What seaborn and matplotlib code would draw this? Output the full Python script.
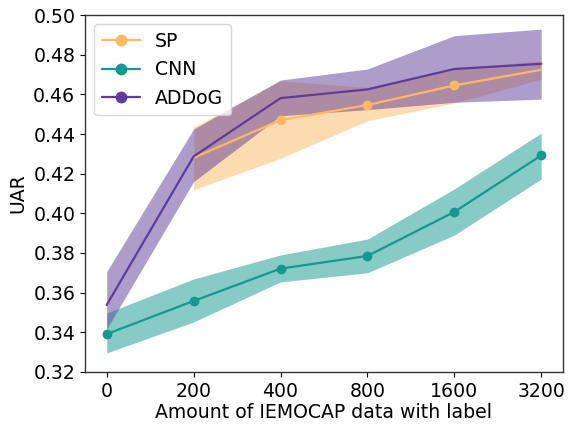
import matplotlib
matplotlib.use("Agg")
import matplotlib.pyplot as plt
from matplotlib.lines import Line2D
import numpy as np
import pandas as pd
import seaborn as sns

# ─────────────────────────────────────────────
# Data
# ─────────────────────────────────────────────
AMOUNTS = ["0", "200", "400", "800", "1600", "3200"]

SP_X     = ["200", "400", "800", "1600", "3200"]
SP_MEAN  = [0.4280, 0.4470, 0.4546, 0.4645, 0.4724]
SP_LOW   = [0.4119, 0.4277, 0.4467, 0.4556, 0.4677]
SP_HIGH  = [0.4435, 0.4668, 0.4635, 0.4730, 0.4770]
SP_MARKED = ["400", "800", "1600"]

CNN_X    = AMOUNTS
CNN_MEAN = [0.3391, 0.3558, 0.3721, 0.3785, 0.4007, 0.4292]
CNN_LOW  = [0.3296, 0.3452, 0.3654, 0.3700, 0.3890, 0.4173]
CNN_HIGH = [0.3497, 0.3669, 0.3790, 0.3870, 0.4123, 0.4405]
CNN_MARKED = AMOUNTS

ADDOG_X    = AMOUNTS
ADDOG_MEAN = [0.3538, 0.4287, 0.4581, 0.4625, 0.4728, 0.4754]
ADDOG_LOW  = [0.3417, 0.4160, 0.4492, 0.4523, 0.4560, 0.4576]
ADDOG_HIGH = [0.3706, 0.4425, 0.4672, 0.4728, 0.4896, 0.4929]
ADDOG_MARKED = []

COLORS = {"SP": "#fdb863", "CNN": "#13998f", "ADDoG": "#5e3c99"}
FS = 13.6


def make_frame(name, xs, mean, low, high, marked):
    df = pd.DataFrame({"amount": xs, "UAR": mean, "low": low, "high": high})
    df["pos"] = df["amount"].map(AMOUNTS.index)
    df["model"] = name
    df["marked"] = df["amount"].isin(marked)
    return df


frames = [
    make_frame("SP", SP_X, SP_MEAN, SP_LOW, SP_HIGH, SP_MARKED),
    make_frame("CNN", CNN_X, CNN_MEAN, CNN_LOW, CNN_HIGH, CNN_MARKED),
    make_frame("ADDoG", ADDOG_X, ADDOG_MEAN, ADDOG_LOW, ADDOG_HIGH, ADDOG_MARKED),
]

# ─────────────────────────────────────────────
# Plot
# ─────────────────────────────────────────────
sns.set_style("ticks")
plt.rcParams["font.family"] = ["DejaVu Sans"]
plt.rcParams.update({"text.color": "black", "axes.labelcolor": "black",
                     "xtick.color": "black", "ytick.color": "black"})

fig = plt.figure(figsize=(5.68, 4.30), dpi=100)
ax = fig.add_axes([0.1496, 0.135, 0.8415, 0.830])

# bands first
for df in frames:
    ax.fill_between(df["pos"], df["low"], df["high"],
                    color=COLORS[df["model"].iloc[0]], alpha=0.5, linewidth=0)

# lines + markers on top
for df in frames:
    name = df["model"].iloc[0]
    sns.lineplot(data=df, x="pos", y="UAR", color=COLORS[name],
                 linewidth=1.6, ax=ax, legend=False)
    pts = df[df["marked"]]
    if len(pts):
        sns.scatterplot(data=pts, x="pos", y="UAR", color=COLORS[name],
                        s=50, linewidth=0, ax=ax, legend=False, zorder=3)

handles = [Line2D([0], [0], color=COLORS[n], marker="o", markersize=7.5, linewidth=1.6)
           for n in ["SP", "CNN", "ADDoG"]]
ax.legend(handles, ["SP", "CNN", "ADDoG"], loc="upper left", fontsize=FS,
          frameon=True, handlelength=2.0)

ax.set_xlim(-0.25, 5.25)
ax.set_ylim(0.32, 0.50)
ax.set_xticks(range(len(AMOUNTS)))
ax.set_xticklabels(AMOUNTS)
ax.set_yticks(np.arange(0.32, 0.5001, 0.02))
ax.yaxis.set_major_formatter(matplotlib.ticker.FormatStrFormatter("%.2f"))
ax.tick_params(labelsize=FS)
ax.set_xlabel("Amount of IEMOCAP data with label", fontsize=FS, labelpad=2)
ax.set_ylabel("UAR", fontsize=FS)
for sp in ax.spines.values():
    sp.set_visible(True)
    sp.set_linewidth(1.0)
    sp.set_color("#333333")

fig.savefig("out.png", dpi=100)
